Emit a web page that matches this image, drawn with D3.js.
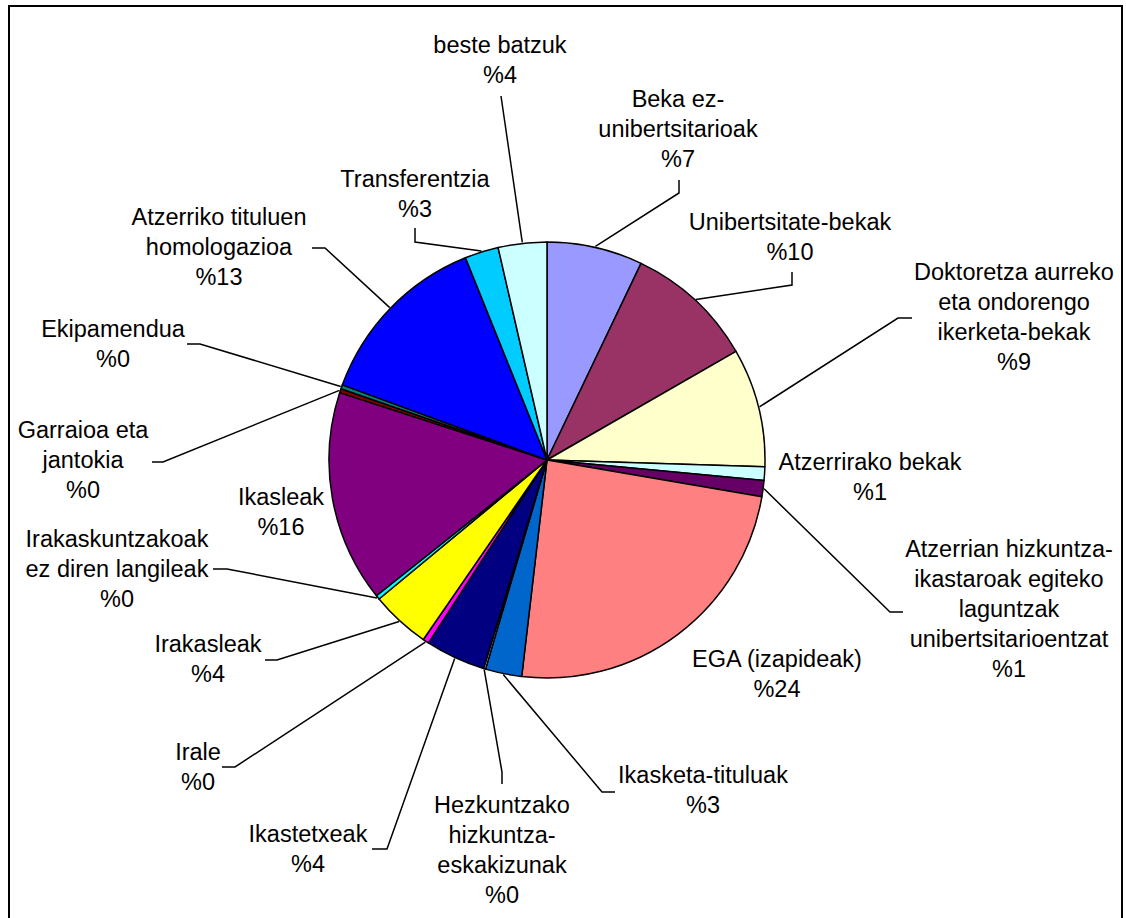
<!DOCTYPE html>
<html>
<head>
<meta charset="utf-8">
<script src="https://cdn.jsdelivr.net/npm/d3@7"></script>
<style>
  body { margin: 0; background: #fff; }
  text { font-family: "Liberation Sans", Arial, sans-serif; font-size: 23.5px; fill: #000; }
</style>
</head>
<body>
<svg id="chart"></svg>
<script>
// slices, clockwise from 12 o'clock
const categories = [
  "Beka ez-unibertsitarioak", "Unibertsitate-bekak", "Doktoretza aurreko eta ondorengo ikerketa-bekak",
  "Atzerrirako bekak", "Atzerrian hizkuntza-ikastaroak egiteko laguntzak unibertsitarioentzat",
  "EGA (izapideak)", "Ikasketa-tituluak", "Hezkuntzako hizkuntza-eskakizunak", "Ikastetxeak",
  "Irale", "Irakasleak", "Irakaskuntzakoak ez diren langileak", "Ikasleak", "Garraioa eta jantokia",
  "Ekipamendua", "Atzerriko tituluen homologazioa", "Transferentzia", "beste batzuk"
];
const shares = [7.1, 9.6, 8.8, 1.0, 1.2, 24.15, 2.7, 0.15, 4.45, 0.45, 4.4, 0.3, 15.7, 0.3, 0.3, 13.3, 2.5, 3.6];
const colors = [
  "#9999FF", "#993366", "#FFFFCC", "#CCFFFF", "#660066", "#FF8080", "#0066CC", "#CCCCFF", "#000080",
  "#FF00FF", "#FFFF00", "#00FFFF", "#800080", "#800000", "#008080", "#0000FF", "#00CCFF", "#CCFFFF"
];
// label text broken in lines as in the original
const labelLines = [
  ["Beka ez-", "unibertsitarioak"], ["Unibertsitate-bekak"], ["Doktoretza aurreko", "eta ondorengo", "ikerketa-bekak"],
  ["Atzerrirako bekak"], ["Atzerrian hizkuntza-", "ikastaroak egiteko", "laguntzak", "unibertsitarioentzat"],
  ["EGA (izapideak)"], ["Ikasketa-tituluak"], ["Hezkuntzako", "hizkuntza-", "eskakizunak"], ["Ikastetxeak"],
  ["Irale"], ["Irakasleak"], ["Irakaskuntzakoak", "ez diren langileak"], ["Ikasleak"], ["Garraioa eta", "jantokia"],
  ["Ekipamendua"], ["Atzerriko tituluen", "homologazioa"], ["Transferentzia"], ["beste batzuk"]
];

// label placement (center x, first baseline y) and leader line label-side points
const labelLayout = [
  {x: 678, y: 107, lead: [[679, 180], [679, 193]]},
  {x: 790, y: 230, lead: [[792, 272], [792, 285]]},
  {x: 1014, y: 280, lead: [[912, 318], [898, 318]]},
  {x: 870, y: 470, lead: null},
  {x: 1009, y: 557, lead: [[903, 612], [890, 612]]},
  {x: 777, y: 667, lead: null},
  {x: 703, y: 783, lead: [[615, 792], [602, 792]]},
  {x: 502, y: 813, lead: [[502, 784], [502, 772]]},
  {x: 308, y: 842, lead: [[372, 849], [387, 849]]},
  {x: 198, y: 760, lead: [[222, 767], [235, 767]]},
  {x: 208, y: 652, lead: [[265, 660], [277, 660]]},
  {x: 117, y: 547, lead: [[213, 569], [227, 569]]},
  {x: 281, y: 505, lead: null},
  {x: 83, y: 438, lead: [[152, 462], [163, 462]]},
  {x: 113, y: 337, lead: [[187, 344], [200, 344]]},
  {x: 219, y: 225, lead: [[312, 248], [325, 248]]},
  {x: 415, y: 187, lead: [[415, 228], [415, 242]]},
  {x: 500, y: 53, lead: [[501, 96], [501, 96]]}
];

const width = 1126, height = 918;
const cx = 547, cy = 460, radius = 218;
const lineHeight = 30;

const data = categories.map((c, i) => ({name: c, value: shares[i], color: colors[i], lines: labelLines[i], pos: labelLayout[i]}));
const total = d3.sum(shares);

const svg = d3.select("#chart")
  .attr("width", width)
  .attr("height", height);

// frame
svg.append("rect")
  .attr("x", 9).attr("y", 6)
  .attr("width", 1113).attr("height", 920)
  .attr("fill", "none")
  .attr("stroke", "#000")
  .attr("stroke-width", 2);

const pie = d3.pie().sort(null).value(d => d.value);
const arc = d3.arc().innerRadius(0).outerRadius(radius);
const edge = d3.arc().innerRadius(radius + 1).outerRadius(radius + 1);

const arcs = pie(data);
const g = svg.append("g").attr("transform", `translate(${cx}, ${cy})`);

g.selectAll("path.slice")
  .data(arcs)
  .join("path")
  .attr("class", "slice")
  .attr("d", arc)
  .attr("fill", d => d.data.color)
  .attr("stroke", "#000")
  .attr("stroke-width", 1.5)
  .attr("stroke-linejoin", "round");

// leader lines
svg.selectAll("polyline.leader")
  .data(arcs.filter(d => d.data.pos.lead))
  .join("polyline")
  .attr("class", "leader")
  .attr("fill", "none")
  .attr("stroke", "#000")
  .attr("stroke-width", 1.5)
  .attr("points", d => {
    const p = edge.centroid(d);
    const pts = [...d.data.pos.lead, [p[0] + cx, p[1] + cy]];
    return pts.map(q => q.join(",")).join(" ");
  });

// labels
const labels = svg.selectAll("text.label")
  .data(arcs)
  .join("text")
  .attr("class", "label")
  .attr("text-anchor", "middle");

labels.each(function(d) {
  const t = d3.select(this);
  const lines = [...d.data.lines, "%" + Math.round(d.data.value / total * 100)];
  lines.forEach((s, i) => {
    t.append("tspan")
      .attr("x", d.data.pos.x)
      .attr("y", d.data.pos.y + i * lineHeight)
      .text(s);
  });
});
</script>
</body>
</html>
